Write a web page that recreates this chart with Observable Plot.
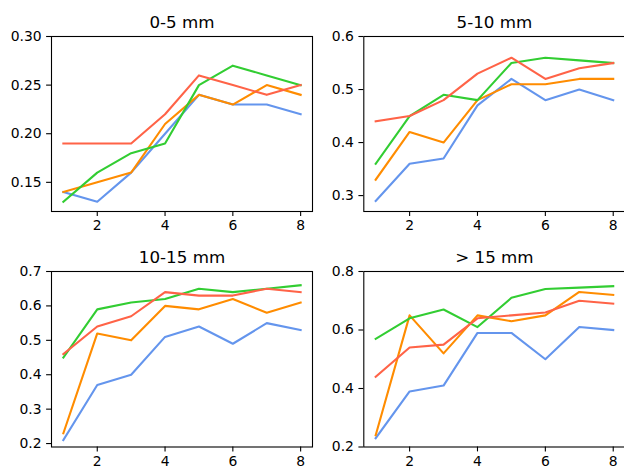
<!DOCTYPE html>
<html>
<head>
<meta charset="utf-8">
<script src="https://cdn.jsdelivr.net/npm/d3@7"></script>
<script src="https://cdn.jsdelivr.net/npm/@observablehq/plot@0.6"></script>
<style>
  html, body { margin: 0; padding: 0; background: #fff; overflow: hidden; }
  #wrap { position: relative; width: 624px; height: 467px; overflow: hidden; background: #fff; }
  #wrap svg { position: absolute; overflow: visible; }
</style>
</head>
<body>
<div id="wrap"></div>
<script>
// ---- data ----
const xValues = [1, 2, 3, 4, 5, 6, 7, 8];
const xTicks = [2, 4, 6, 8];
const panelTitles = ["0-5 mm", "5-10 mm", "10-15 mm", "> 15 mm"];
const seriesNames = ["S1", "S2", "S3", "S4"];
const seriesColors = ["#6495ed", "#ff8c00", "#32cd32", "#ff6347"];

// panel 0-5 mm
const p1S1 = [0.14, 0.13, 0.16, 0.20, 0.24, 0.23, 0.23, 0.22];
const p1S2 = [0.14, 0.15, 0.16, 0.21, 0.24, 0.23, 0.25, 0.24];
const p1S3 = [0.13, 0.16, 0.18, 0.19, 0.25, 0.27, 0.26, 0.25];
const p1S4 = [0.19, 0.19, 0.19, 0.22, 0.26, 0.25, 0.24, 0.25];
// panel 5-10 mm
const p2S1 = [0.29, 0.36, 0.37, 0.47, 0.52, 0.48, 0.50, 0.48];
const p2S2 = [0.33, 0.42, 0.40, 0.48, 0.51, 0.51, 0.52, 0.52];
const p2S3 = [0.36, 0.45, 0.49, 0.48, 0.55, 0.56, 0.555, 0.55];
const p2S4 = [0.44, 0.45, 0.48, 0.53, 0.56, 0.52, 0.54, 0.55];
// panel 10-15 mm
const p3S1 = [0.21, 0.37, 0.40, 0.51, 0.54, 0.49, 0.55, 0.53];
const p3S2 = [0.23, 0.52, 0.50, 0.60, 0.59, 0.62, 0.58, 0.61];
const p3S3 = [0.45, 0.59, 0.61, 0.62, 0.65, 0.64, 0.65, 0.66];
const p3S4 = [0.46, 0.54, 0.57, 0.64, 0.63, 0.63, 0.65, 0.64];
// panel > 15 mm
const p4S1 = [0.23, 0.39, 0.41, 0.59, 0.59, 0.50, 0.61, 0.60];
const p4S2 = [0.24, 0.65, 0.52, 0.65, 0.63, 0.65, 0.73, 0.72];
const p4S3 = [0.57, 0.64, 0.67, 0.61, 0.71, 0.74, 0.745, 0.75];
const p4S4 = [0.44, 0.54, 0.55, 0.64, 0.65, 0.66, 0.70, 0.69];

const p1YTicks = [0.15, 0.20, 0.25, 0.30];
const p2YTicks = [0.3, 0.4, 0.5, 0.6];
const p3YTicks = [0.2, 0.3, 0.4, 0.5, 0.6, 0.7];
const p4YTicks = [0.2, 0.4, 0.6, 0.8];

// ---- layout ----
const panels = [
  {title: panelTitles[0], series: [p1S1, p1S2, p1S3, p1S4], yTicks: p1YTicks, yDomain: [0.12, 0.30], fmt: ".2f",
   left: 0, top: 0, width: 320, height: 240, mL: 51, mR: 8, mT: 36, mB: 29},
  {title: panelTitles[1], series: [p2S1, p2S2, p2S3, p2S4], yTicks: p2YTicks, yDomain: [0.27, 0.60], fmt: ".1f",
   left: 320, top: 0, width: 310, height: 240, mL: 43.3, mR: 5.4, mT: 36, mB: 29},
  {title: panelTitles[2], series: [p3S1, p3S2, p3S3, p3S4], yTicks: p3YTicks, yDomain: [0.19, 0.70], fmt: ".1f",
   left: 0, top: 240, width: 320, height: 227, mL: 51, mR: 8, mT: 31, mB: 20.5},
  {title: panelTitles[3], series: [p4S1, p4S2, p4S3, p4S4], yTicks: p4YTicks, yDomain: [0.2, 0.8], fmt: ".1f",
   left: 320, top: 240, width: 310, height: 227, mL: 43.3, mR: 5.4, mT: 31, mB: 20.5}
];

const wrap = document.getElementById("wrap");

for (const p of panels) {
  const rows = [];
  p.series.forEach((vals, si) => {
    vals.forEach((v, i) => rows.push({x: xValues[i], y: v, s: seriesNames[si]}));
  });
  const chart = Plot.plot({
    width: p.width,
    height: p.height,
    marginLeft: p.mL,
    marginRight: p.mR,
    marginTop: p.mT,
    marginBottom: p.mB,
    style: {fontFamily: "DejaVu Sans", fontSize: "13.9px", color: "black", background: "transparent", overflow: "visible"},
    x: {domain: [0.65, 8.35]},
    y: {domain: p.yDomain},
    color: {type: "ordinal", domain: seriesNames, range: seriesColors},
    marks: [
      Plot.line(rows, {x: "x", y: "y", z: "s", stroke: "s", strokeWidth: 2.1,
        strokeLinejoin: "round", strokeLinecap: "square"}),
      Plot.frame({stroke: "black", strokeWidth: 1.1}),
      Plot.axisX({ticks: xTicks, tickSize: 4.9, tickPadding: 4, label: null, tickFormat: d3.format("d"),
        stroke: "black", strokeWidth: 1.1, fill: "black", fontSize: 13.9}),
      Plot.axisY({ticks: p.yTicks, tickSize: 4.9, tickPadding: 5, label: null, tickFormat: d3.format(p.fmt),
        stroke: "black", strokeWidth: 1.1, fill: "black", fontSize: 13.9}),
      Plot.text([p.title], {frameAnchor: "top", lineAnchor: "bottom", dy: -8.3, text: d => d,
        fontSize: 16.7, fill: "black"})
    ]
  });
  chart.style.left = p.left + "px";
  chart.style.top = p.top + "px";
  wrap.appendChild(chart);
}
</script>
</body>
</html>
